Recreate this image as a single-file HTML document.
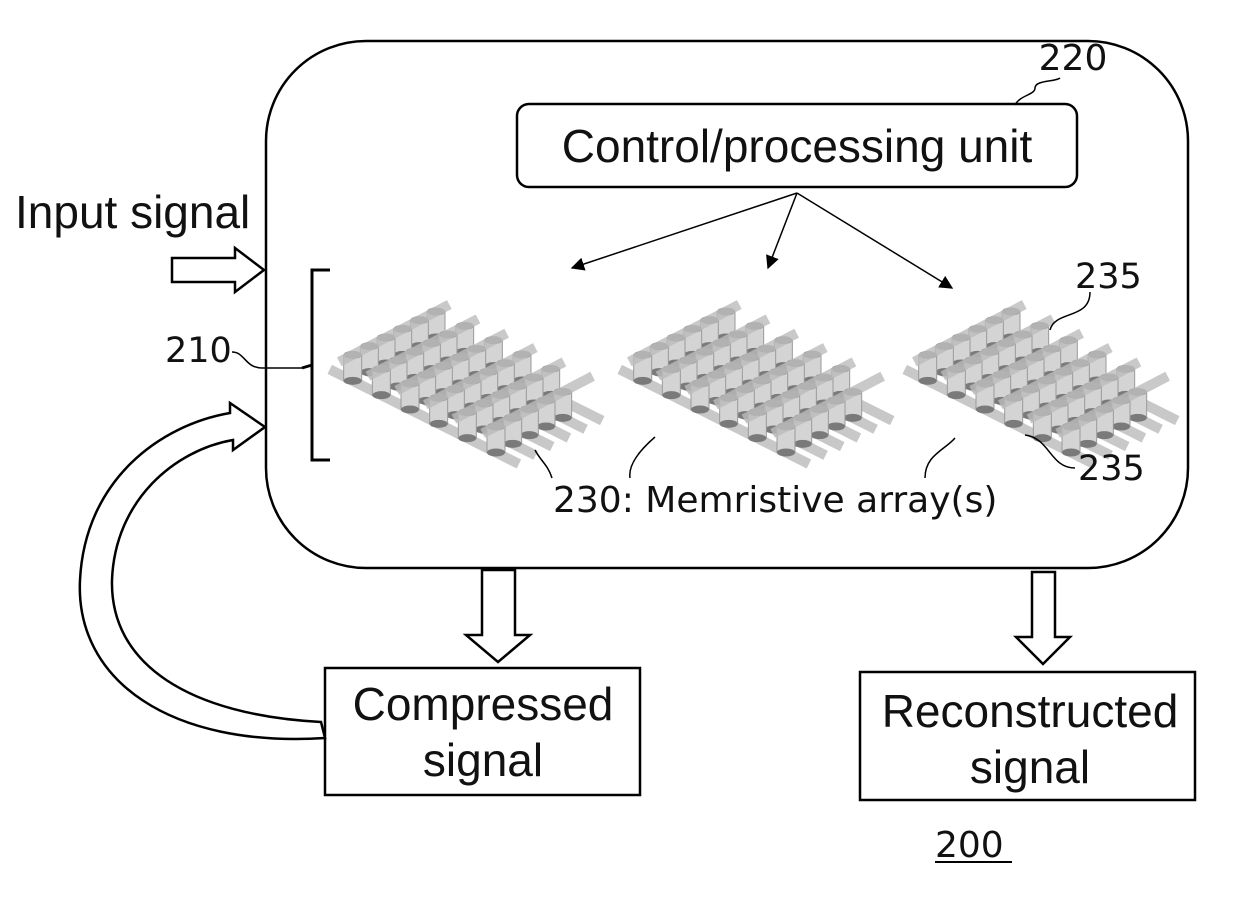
<!DOCTYPE html>
<html><head><style>
html,body{margin:0;padding:0;background:#fff;}
svg{display:block;}
text{font-family:"Liberation Sans",sans-serif;fill:#111;}
.dv{font-family:"DejaVu Sans",sans-serif;}
</style></head><body>
<svg id="s" width="1240" height="905" viewBox="0 0 1240 905" xmlns="http://www.w3.org/2000/svg">
<defs>
<marker id="ah" viewBox="0 0 10 10" refX="9" refY="5" markerWidth="9" markerHeight="9" orient="auto"><path d="M0,0 L10,5 L0,10 z" fill="#000"/></marker>
</defs>
<rect x="266" y="41" width="922" height="527" rx="100" fill="none" stroke="#000" stroke-width="2.5"/>
<rect x="517" y="104" width="560" height="83" rx="12" fill="none" stroke="#000" stroke-width="2.5"/>
<text x="797" y="162" font-size="46" text-anchor="middle">Control/processing unit</text>
<text x="1073" y="70" font-size="36" text-anchor="middle" class="dv">220</text>
<path d="M1015,105 C1020,95 1035,95 1035,88 C1035,80 1055,82 1060,78" fill="none" stroke="#000" stroke-width="1.5"/>
<line x1="797" y1="193" x2="572" y2="268" stroke="#000" stroke-width="1.5" marker-end="url(#ah)"/>
<line x1="797" y1="193" x2="768" y2="268" stroke="#000" stroke-width="1.5" marker-end="url(#ah)"/>
<line x1="797" y1="193" x2="952" y2="288" stroke="#000" stroke-width="1.5" marker-end="url(#ah)"/>
<text x="15" y="228" font-size="46">Input signal</text>
<path d="M172,258 L235,258 L235,248 L264,270 L235,292 L235,282 L172,282 Z" fill="#fff" stroke="#000" stroke-width="2.5"/>
<path d="M330,270 L312,270 L312,460 L330,460 M312,365 L302,368" fill="none" stroke="#000" stroke-width="3"/>
<text x="165" y="362" font-size="35" class="dv">210</text>
<path d="M232,352 C245,352 245,368 262,368 L302,368" fill="none" stroke="#000" stroke-width="1.5"/>
<g id="arrays"></g>
<text x="553" y="512" font-size="36" class="dv">230: Memristive array(s)</text>
<path d="M535,450 C540,460 548,465 552,478" fill="none" stroke="#000" stroke-width="1.5"/>
<path d="M655,437 C640,450 628,465 630,478" fill="none" stroke="#000" stroke-width="1.5"/>
<path d="M955,438 C945,450 925,455 925,478" fill="none" stroke="#000" stroke-width="1.5"/>
<text x="1075" y="288" font-size="35" class="dv">235</text>
<path d="M1090,292 C1090,320 1055,310 1050,330" fill="none" stroke="#000" stroke-width="1.5"/>
<text x="1078" y="480" font-size="35" class="dv">235</text>
<path d="M1075,468 C1050,468 1050,438 1025,435" fill="none" stroke="#000" stroke-width="1.5"/>
<path d="M482,570 L515,570 L515,635 L530,635 L498,662 L466,635 L482,635 Z" fill="#fff" stroke="#000" stroke-width="2.5"/>
<path d="M1032,572 L1055,572 L1055,637 L1070,637 L1043,664 L1016,637 L1032,637 Z" fill="#fff" stroke="#000" stroke-width="2.5"/>
<rect x="325" y="668" width="315" height="127" fill="#fff" stroke="#000" stroke-width="2.5"/>
<text x="483" y="720" font-size="46" text-anchor="middle">Compressed</text>
<text x="483" y="776" font-size="46" text-anchor="middle">signal</text>
<rect x="860" y="672" width="335" height="128" fill="#fff" stroke="#000" stroke-width="2.5"/>
<text x="1030" y="727" font-size="46" text-anchor="middle">Reconstructed</text>
<text x="1030" y="783" font-size="46" text-anchor="middle">signal</text>
<path d="M325,738 C170,748 75,680 80,580 C85,480 160,425 230,413 L230,403 L265,427 L233,450 L233,440 C175,450 115,500 112,580 C110,665 190,715 321,722 Z" fill="#fff" stroke="#000" stroke-width="2.5"/>
<text x="935" y="857" font-size="36" class="dv">200</text>
<line x1="935" y1="862" x2="1012" y2="862" stroke="#000" stroke-width="2"/>
</svg>
<script>
(function(){
var g=document.getElementById('arrays'),h='';
var origins=[[330,352],[620,352],[905,352]];
var u=[100,-52],v=[172,86],N=6;
origins.forEach(function(o){
 var L=o[0],T=o[1];
 function p(a,b){return [L+a*u[0]+b*v[0],T+a*u[1]+b*v[1]];}
 for(var i=0;i<N;i++){var a=(i+0.5)/N;var s=p(a,-0.05),e=p(a,1.05);
  h+='<line x1="'+s[0]+'" y1="'+(s[1]+26)+'" x2="'+e[0]+'" y2="'+(e[1]+26)+'" stroke="#c8c8c8" stroke-width="10"/>';}
 for(var i=N-1;i>=0;i--)for(var j=0;j<N;j++){if(i==N-1&&j==N-1)continue;var c=p((i+0.5)/N,(j+0.5)/N);
  h+='<rect x="'+(c[0]-9)+'" y="'+c[1]+'" width="18" height="26" fill="#d4d4d4" stroke="#9a9a9a" stroke-width="1"/>';
  h+='<ellipse cx="'+c[0]+'" cy="'+(c[1]+26)+'" rx="9" ry="4" fill="#7a7a7a"/>';
  h+='<ellipse cx="'+c[0]+'" cy="'+c[1]+'" rx="9" ry="4" fill="#8e8e8e"/>';}
 for(var j=0;j<N;j++){var b=(j+0.5)/N;var s=p(-0.05,b),e=p(1.05,b);
  h+='<line x1="'+s[0]+'" y1="'+s[1]+'" x2="'+e[0]+'" y2="'+e[1]+'" stroke="#bcbcbc" stroke-width="10" opacity="0.8"/>';}
});
g.innerHTML=h;
})();
</script>
</body></html>
